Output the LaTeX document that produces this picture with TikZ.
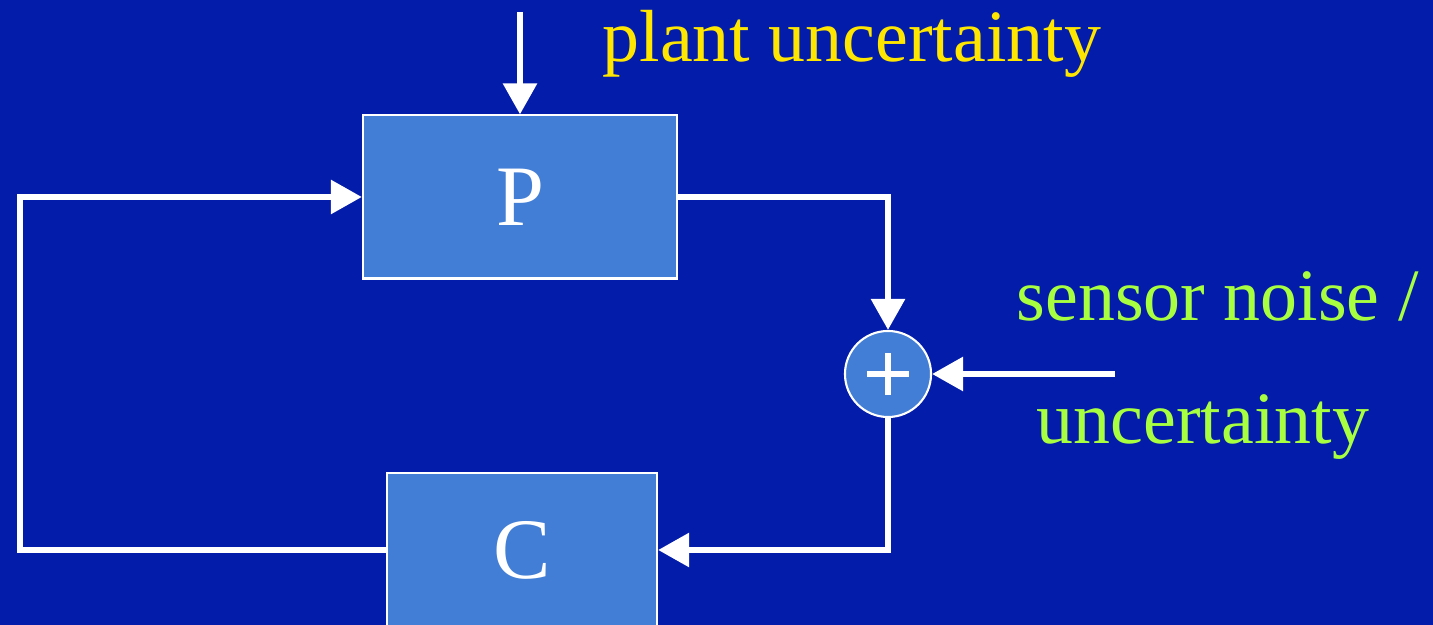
\documentclass[tikz,border=0pt]{standalone}
\usepackage{fontspec}
\setmainfont{Liberation Serif}
\usepackage{xcolor}
\usetikzlibrary{positioning, calc, arrows.meta}

\definecolor{slidebg}{HTML}{031CAA}
\definecolor{blockfill}{HTML}{427ED6}
\definecolor{plantcol}{HTML}{FFE600}
\definecolor{noisecol}{HTML}{A8FF40}

\tikzset{
  blk/.style={draw=white, line width=0.6pt, fill=blockfill, text=white,
    font=\fontsize{24.5}{28}\selectfont},
  sumnode/.style={circle, draw=white, line width=0.6pt, fill=blockfill,
    minimum size=0.86cm, inner sep=0pt,
    path picture={
      \draw[white, line width=1.9pt]
        ($(path picture bounding box.center)+(-0.21cm,0)$) -- ++(0.42cm,0)
        ($(path picture bounding box.center)+(0,-0.21cm)$) -- ++(0,0.42cm);
    }},
  wire/.style={white, line width=1.7pt},
  arr/.style={-{Triangle[length=3.1mm, width=3.3mm]}},
  lbl/.style={font=\fontsize{21}{25}\selectfont, inner sep=0pt},
}

\begin{document}
\begin{tikzpicture}[x=0.01cm, y=-0.01cm]
      \path[fill=slidebg, use as bounding box] (0,0) rectangle (1433,625);
      % blocks and summing junction
      \node[blk, minimum width=3.14cm, minimum height=1.63cm] (P) at (520,197) {P};
      \node[blk, minimum width=2.70cm, minimum height=1.54cm] (C) at (522,550) {C};
      \node[sumnode] (S) at (888,374) {};
      % loose ends
      \coordinate (pu) at (520,12);
      \coordinate (nz) at (1115,374);
      \coordinate (lc) at (20,550);
      % loop
      \draw[wire, arr] (P.east) -| (S.north);
      \draw[wire, arr] (S.south) |- (C.east);
      \draw[wire, arr] (C.west) -- (lc) |- (P.west);
      \draw[wire, arr] (pu) -- (P.north);
      \draw[wire, arr] (nz) -- (S.east);
      % labels
      \node[lbl, text=plantcol, anchor=base west] (plant) at (602,62) {plant uncertainty};
      \node[lbl, text=noisecol, anchor=base west] (noise1) at (1016,321) {sensor noise /};
      \node[lbl, text=noisecol, anchor=base west] (noise2) at (1036,444) {uncertainty};
\end{tikzpicture}
\end{document}
